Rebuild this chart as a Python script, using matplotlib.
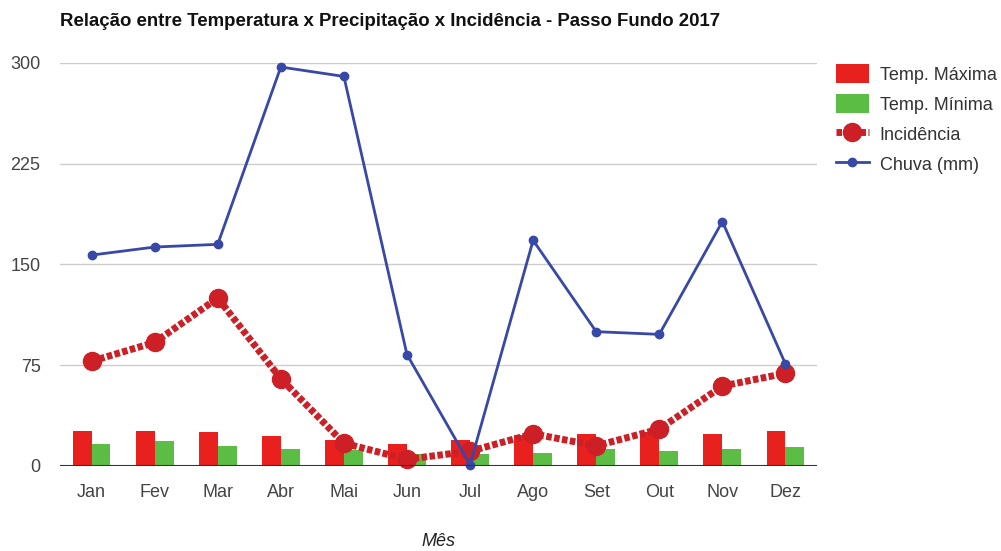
import numpy as np
import matplotlib
matplotlib.use("Agg")
import matplotlib.pyplot as plt

plt.rcParams['font.family'] = ['Liberation Sans', 'DejaVu Sans']

meses = ["Jan", "Fev", "Mar", "Abr", "Mai", "Jun", "Jul", "Ago", "Set", "Out", "Nov", "Dez"]
temp_max = [26, 26, 25, 22.5, 19.5, 16.5, 19.5, 23, 24, 25, 24, 26]
temp_min = [16.5, 18.5, 15, 12.5, 12, 9, 9, 10, 12.5, 11.5, 12.5, 14.5]
incidencia = [78, 92, 125, 65, 17, 5, 11, 24, 15, 27.5, 59.5, 69]
chuva = [157, 163, 165, 297, 290, 83, 1, 168, 100, 98, 182, 76]

fig = plt.figure(figsize=(10.01, 5.51), dpi=100)
ax = fig.add_axes([60 / 1001, 85 / 551, 757 / 1001, 403 / 551])

x = np.arange(len(meses))
w = 0.3
b1 = ax.bar(x - w / 2, temp_max, width=w, color='#e8201e', label='Temp. Máxima', zorder=2)
b2 = ax.bar(x + w / 2, temp_min, width=w, color='#5cbd44', label='Temp. Mínima', zorder=2)
l1, = ax.plot(x, incidencia, color='#cc1f26', lw=5, ls=(0, (0.8, 0.35)), marker='o',
              markersize=13, label='Incidência', zorder=3, clip_on=False)
l2, = ax.plot(x, chuva, color='#3848a6', lw=2, marker='o', markersize=6,
              label='Chuva (mm)', zorder=4, clip_on=False)

ax.set_xlim(-0.5, 11.5)
ax.set_ylim(0, 300)
ax.set_yticks([0, 75, 150, 225, 300])
ax.set_xticks(x)
ax.set_xticklabels(meses)
ax.yaxis.grid(True, color='#cccccc', lw=1, zorder=0)
ax.axhline(0, color='#333333', lw=1.5, zorder=5)
for s in ax.spines.values():
    s.set_visible(False)
ax.tick_params(length=0, labelsize=13, colors='#444444', pad=13)
ax.tick_params(axis='y', pad=14)
ax.set_xlabel('Mês', style='italic', fontsize=13, color='#222222', labelpad=23)

fig.text(60 / 1001, 1 - 22 / 551, 'Relação entre Temperatura x Precipitação x Incidência - Passo Fundo 2017',
         fontsize=13.4, fontweight='bold', va='center', ha='left', color='#111111')

ax.legend([b1, b2, l1, l2], ['Temp. Máxima', 'Temp. Mínima', 'Incidência', 'Chuva (mm)'],
          loc='upper left', bbox_to_anchor=(1.015, 1.015), frameon=False,
          fontsize=13, labelcolor='#333333', handlelength=1.85, handleheight=1.2,
          labelspacing=0.6, handletextpad=0.6, borderaxespad=0)

fig.savefig('out.png', dpi=100, facecolor='white')
